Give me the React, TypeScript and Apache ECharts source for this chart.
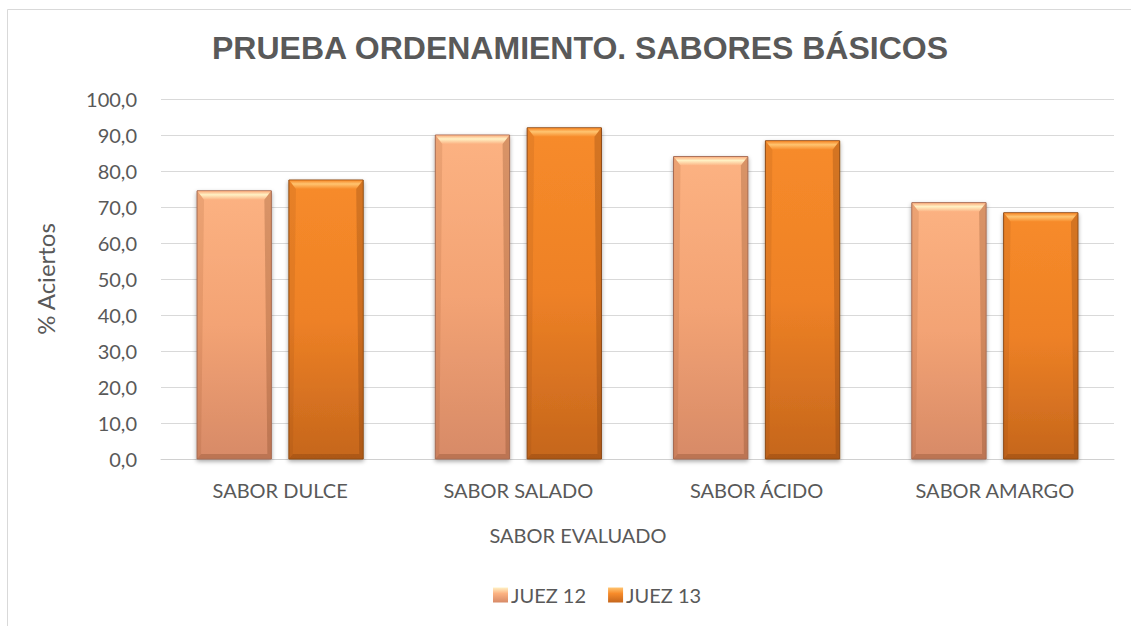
import React, { useEffect, useRef } from "react";
import * as echarts from "echarts";

const categories = ["SABOR DULCE", "SABOR SALADO", "SABOR ÁCIDO", "SABOR AMARGO"];
const juez12 = [74.5, 90.0, 84.0, 71.2];
const juez13 = [77.5, 92.0, 88.4, 68.4];
const seriesNames = ["JUEZ 12", "JUEZ 13"];
const yTicks = { min: 0, max: 100, interval: 10 };
const titleText = "PRUEBA ORDENAMIENTO. SABORES BÁSICOS";
const xAxisTitle = "SABOR EVALUADO";
const yAxisTitle = "% Aciertos";

const palettes = [
  {
    top: "#FCB282",
    mid: "#F3A374",
    bottom: "#D78A67",
    stroke: "#A46A52",
    light: "#FFF1C4",
  },
  {
    top: "#F78B2A",
    mid: "#EE8126",
    bottom: "#C5661C",
    stroke: "#8C4A14",
    light: "#FFC470",
  },
];

const FONT = "Lato, 'Open Sans', sans-serif";

function makeRender(sIdx: number) {
  const p = palettes[sIdx];
  return (params: any, api: any) => {
    const i = api.value(0);
    const v = api.value(1);
    const base = api.coord([i, 0]);
    const topPt = api.coord([i, v]);
    const band = api.size([1, 0])[0];
    const w = band * 0.312;
    const gap = band * 0.0735;
    const cx = base[0] + (sIdx === 0 ? -1 : 1) * (w / 2 + gap / 2);
    const x = cx - w / 2;
    const y = topPt[1];
    const h = base[1] - topPt[1];
    const bt = 9;
    const bs = 4;
    const bb = 5;
    return {
      type: "group",
      children: [
        {
          type: "rect",
          shape: { x: x, y: y, width: w, height: h },
          style: {
            fill: new echarts.graphic.LinearGradient(0, 0, 0, 1, [
              { offset: 0, color: p.top },
              { offset: 0.5, color: p.mid },
              { offset: 1, color: p.bottom },
            ]),
            stroke: p.stroke,
            lineWidth: 1,
            shadowColor: "rgba(0,0,0,0.35)",
            shadowBlur: 4,
            shadowOffsetY: 2,
          },
        },
        {
          type: "polygon",
          shape: {
            points: [
              [x + 0.5, y + 0.5],
              [x + w - 0.5, y + 0.5],
              [x + w - bs - 3, y + bt],
              [x + bs + 3, y + bt],
            ],
          },
          style: {
            fill: new echarts.graphic.LinearGradient(0, 0, 0, 1, [
              { offset: 0, color: p.top },
              { offset: 0.4, color: p.light },
              { offset: 1, color: p.top },
            ]),
          },
        },
        {
          type: "polygon",
          shape: {
            points: [
              [x + 0.5, y + 0.5],
              [x + bs + 3, y + bt],
              [x + bs, y + h - bb],
              [x + 0.5, y + h - 0.5],
            ],
          },
          style: { fill: "rgba(120,60,20,0.12)" },
        },
        {
          type: "polygon",
          shape: {
            points: [
              [x + w - 0.5, y + 0.5],
              [x + w - bs - 3, y + bt],
              [x + w - bs, y + h - bb],
              [x + w - 0.5, y + h - 0.5],
            ],
          },
          style: { fill: "rgba(90,40,10,0.22)" },
        },
        {
          type: "polygon",
          shape: {
            points: [
              [x + 0.5, y + h - 0.5],
              [x + bs, y + h - bb],
              [x + w - bs, y + h - bb],
              [x + w - 0.5, y + h - 0.5],
            ],
          },
          style: { fill: "rgba(80,30,0,0.2)" },
        },
      ],
    };
  };
}

export default function App() {
  const ref = useRef<HTMLDivElement>(null);
  useEffect(() => {
    if (!ref.current) return;
    const chart = echarts.init(ref.current, null, { renderer: "svg" });
    const seriesData = [juez12, juez13];
    chart.setOption({
      animation: false,
      backgroundColor: "#ffffff",
      title: {
        text: titleText,
        left: 575,
        textAlign: "center",
        top: 27,
        textStyle: {
          fontFamily: "'Liberation Sans', Arial, sans-serif",
          fontWeight: "bold",
          fontSize: 32,
          color: "#595959",
        },
      },
      legend: {
        top: 580,
        left: 488,
        itemWidth: 15,
        itemHeight: 15,
        itemGap: 22,
        icon: "rect",
        data: seriesNames,
        textStyle: { fontFamily: FONT, fontSize: 20, color: "#595959", padding: [0, 0, 0, -2] },
      },
      grid: { left: 161, right: 17, top: 99, bottom: 167 },
      xAxis: {
        type: "category",
        data: categories,
        axisLine: { show: true, lineStyle: { color: "#D0D0D0", width: 1 } },
        axisTick: { show: false },
        axisLabel: {
          fontFamily: FONT,
          fontSize: 20,
          color: "#595959",
          margin: 21,
        },
      },
      yAxis: {
        type: "value",
        min: yTicks.min,
        max: yTicks.max,
        interval: yTicks.interval,
        name: yAxisTitle,
        nameLocation: "middle",
        nameGap: 104,
        nameTextStyle: { fontFamily: FONT, fontSize: 24, color: "#595959" },
        axisLine: { show: false },
        axisTick: { show: false },
        splitLine: { lineStyle: { color: "#D9D9D9", width: 1 } },
        axisLabel: {
          fontFamily: FONT,
          fontSize: 20,
          color: "#595959",
          margin: 24,
          formatter: (v: number) => v.toFixed(1).replace(".", ","),
        },
      },
      graphic: [
        {
          type: "polyline",
          shape: { points: [[7.5, 640], [7.5, 9.5], [1140, 9.5]] },
          style: { stroke: "#D9D9D9", lineWidth: 1, fill: "none" },
          silent: true,
        },
        {
          type: "text",
          x: 578,
          y: 535,
          style: {
            text: xAxisTitle,
            fontFamily: FONT,
            fontSize: 20,
            fill: "#595959",
            align: "center",
            verticalAlign: "middle",
          },
        },
      ],
      series: seriesNames.map((name, sIdx) => ({
        type: "custom",
        name,
        renderItem: makeRender(sIdx),
        itemStyle: {
          color: new echarts.graphic.LinearGradient(0, 0, 0, 1, [
            { offset: 0, color: palettes[sIdx].light },
            { offset: 0.4, color: palettes[sIdx].top },
            { offset: 1, color: palettes[sIdx].bottom },
          ]),
        },
        encode: { x: 0, y: 1 },
        data: seriesData[sIdx].map((v, i) => [i, v]),
      })),
    });
    return () => chart.dispose();
  }, []);
  return (
    <div
      ref={ref}
      style={{ position: "fixed", left: 0, top: 0, width: 1131, height: 626 }}
    />
  );
}
